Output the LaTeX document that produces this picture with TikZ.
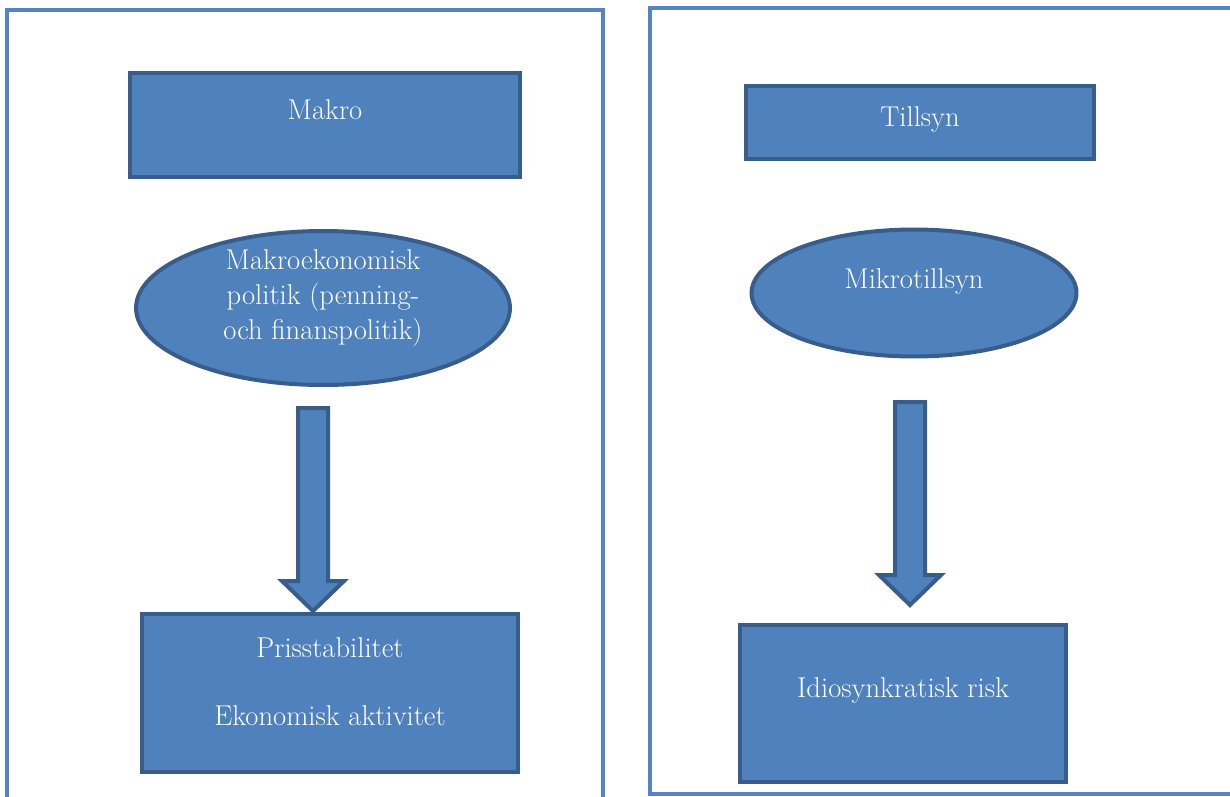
\documentclass[tikz,border=0pt]{standalone}
\usepackage{fontspec}
\usetikzlibrary{calc,shapes.geometric}
\definecolor{boxfill}{HTML}{4F81BD}
\definecolor{boxline}{HTML}{385D8A}
\definecolor{frameline}{HTML}{5484C2}
\newcommand\blkarrow[2]{%
  \draw[blockarrow] ($(#1)+(-15,0)$) -- ($(#1)+(15,0)$) -- ($(#2)+(15,-30)$) -- ($(#2)+(31,-30)$)
    -- (#2) -- ($(#2)+(-31,-30)$) -- ($(#2)+(-15,-30)$) -- cycle;}
\begin{document}
\begin{tikzpicture}[x=0.02cm,y=-0.02cm,
    frame/.style={draw=frameline,line width=0.08cm},
    blk/.style={draw=boxline,fill=boxfill,line width=0.08cm,inner sep=0pt},
    oval/.style={blk,ellipse},
    lbl/.style={text=white,font=\fontsize{16.3}{20}\selectfont,align=center,inner sep=0pt},
    blockarrow/.style={draw=boxline,fill=boxfill,line width=0.08cm,line join=miter}]
                \useasboundingbox (0,0) rectangle (1230,796);
                \clip (0,0) rectangle (1230,796);
                \draw[frame] (7,10) rectangle (603,810);
                \draw[frame] (650,8) rectangle (1240,794);
                \node[blk,minimum width=7.8cm,minimum height=2.08cm] (makro) at (325,125) {};
                \node[lbl] (makrotxt) at (325,110) {Makro};
                \node[oval,minimum width=7.48cm,minimum height=3.08cm] (makropol) at (323,308) {};
                \node[lbl] (makropoltxt) at (323,298) {Makroekonomisk\\politik (penning-\\och finanspolitik)};
                \coordinate (a1s) at (313,408);
                \coordinate (a1e) at (313,611);
                \blkarrow{a1s}{a1e}
                \node[blk,minimum width=7.52cm,minimum height=3.16cm] (pris) at (330,693) {};
                \node[lbl] (pristxt) at (330,648) {Prisstabilitet};
                \node[lbl] (ekotxt) at (330,716) {Ekonomisk aktivitet};
                \node[blk,minimum width=6.96cm,minimum height=1.46cm] (tillsyn) at (920,122) {};
                \node[lbl] (tillsyntxt) at (920,119) {Tillsyn};
                \node[oval,minimum width=6.5cm,minimum height=2.54cm] (mikro) at (914,293) {};
                \node[lbl] (mikrotxt) at (914,281) {Mikrotillsyn};
                \coordinate (a2s) at (910,402);
                \coordinate (a2e) at (910,605);
                \blkarrow{a2s}{a2e}
                \node[blk,minimum width=6.54cm,minimum height=3.14cm] (idio) at (903,703) {};
                \node[lbl] (idiotxt) at (903,690) {Idiosynkratisk risk};
            \end{tikzpicture}
\end{document}
